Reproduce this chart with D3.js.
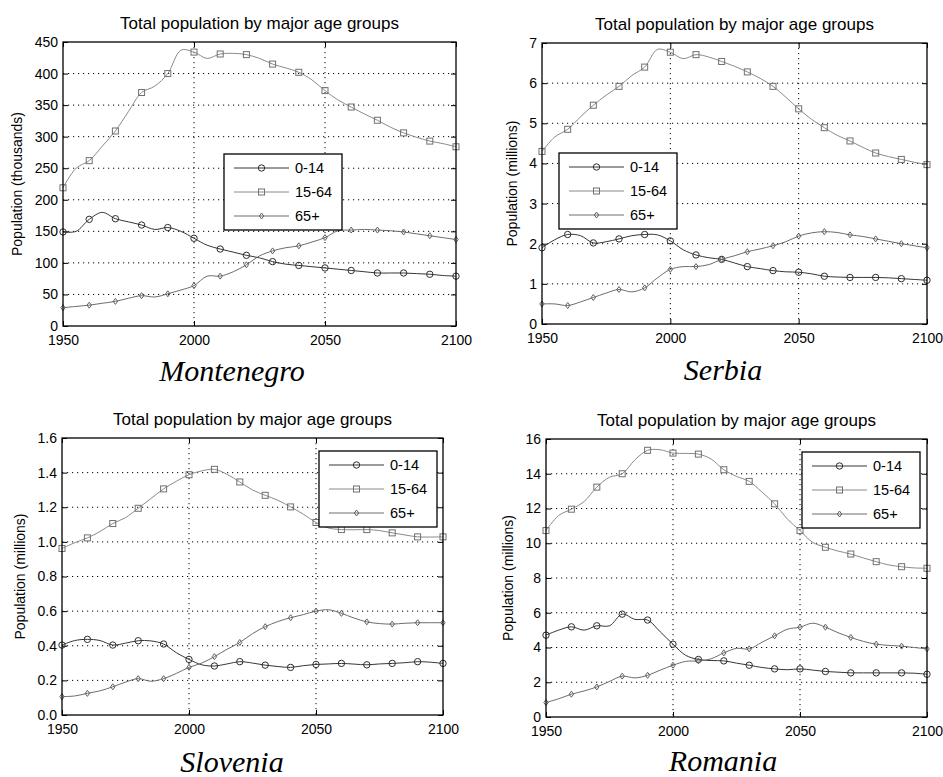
<!DOCTYPE html>
<html>
<head>
<meta charset="utf-8">
<script src="https://cdn.jsdelivr.net/npm/d3@7"></script>
<style>
  body { margin: 0; background: #fff; }
  svg { display: block; font-family: "Liberation Sans", Arial, sans-serif; }
  .tick line { stroke: #000; }
  .tick text { font-size: 14px; fill: #000; }
  .country { font-family: "Liberation Serif", "Times New Roman", serif; font-style: italic; font-size: 30px; }
</style>
</head>
<body>
<div class="svg-container"></div>
<script>
// years (5-year steps, markers every 10 years)
const years = [1950, 1955, 1960, 1965, 1970, 1975, 1980, 1985, 1990, 1995, 2000, 2005, 2010, 2015, 2020, 2025,
  2030, 2035, 2040, 2045, 2050, 2055, 2060, 2065, 2070, 2075, 2080, 2085, 2090, 2095, 2100];
const xTicks = [1950, 2000, 2050, 2100];
const ageGroups = ['0-14', '15-64', '65+'];

// Montenegro (thousands)
const montenegro014 = [149, 150, 169, 180, 170, 165, 160, 153, 156, 150, 139, 128, 122, 117, 112, 108,
  102, 98, 96, 94, 92, 90, 88, 86, 84, 84, 84, 83, 82, 80, 79];
const montenegro1564 = [219, 250, 262, 285, 309, 340, 370, 380, 400, 437, 434, 424, 431, 432, 430, 424,
  415, 409, 402, 390, 373, 358, 347, 336, 326, 315, 306, 299, 293, 289, 284];
const montenegro65 = [29, 31, 33, 36, 39, 44, 48, 46, 51, 57, 64, 79, 79, 86, 97, 111,
  119, 124, 127, 133, 140, 151, 152, 153, 152, 151, 149, 146, 143, 140, 137];
const montenegroTicks = [0, 50, 100, 150, 200, 250, 300, 350, 400, 450];

// Serbia (millions)
const serbia014 = [1.90, 2.10, 2.23, 2.20, 2.02, 2.05, 2.12, 2.20, 2.23, 2.22, 2.07, 1.85, 1.72, 1.65, 1.61, 1.52,
  1.43, 1.38, 1.33, 1.30, 1.29, 1.25, 1.19, 1.17, 1.16, 1.16, 1.16, 1.15, 1.13, 1.11, 1.09];
const serbia1564 = [4.30, 4.66, 4.85, 5.16, 5.45, 5.70, 5.92, 6.19, 6.40, 6.84, 6.77, 6.61, 6.71, 6.65, 6.54, 6.42,
  6.28, 6.12, 5.92, 5.65, 5.36, 5.10, 4.89, 4.70, 4.56, 4.40, 4.26, 4.17, 4.10, 4.03, 3.97];
const serbia65 = [0.50, 0.50, 0.46, 0.55, 0.66, 0.77, 0.86, 0.80, 0.90, 1.15, 1.36, 1.43, 1.43, 1.48, 1.61, 1.70,
  1.80, 1.87, 1.95, 2.05, 2.19, 2.27, 2.30, 2.28, 2.22, 2.18, 2.12, 2.06, 2.00, 1.95, 1.90];
const serbiaTicks = [0, 1, 2, 3, 4, 5, 6, 7];

// Slovenia (millions)
const slovenia014 = [0.404, 0.430, 0.437, 0.430, 0.404, 0.415, 0.429, 0.428, 0.410, 0.360, 0.321, 0.290, 0.283, 0.295, 0.308, 0.300,
  0.288, 0.280, 0.275, 0.285, 0.292, 0.295, 0.298, 0.294, 0.290, 0.295, 0.298, 0.302, 0.308, 0.305, 0.298];
const slovenia1564 = [0.962, 0.995, 1.023, 1.060, 1.106, 1.140, 1.194, 1.250, 1.306, 1.350, 1.388, 1.410, 1.419, 1.390, 1.346, 1.300,
  1.269, 1.240, 1.202, 1.160, 1.112, 1.080, 1.071, 1.070, 1.071, 1.065, 1.052, 1.040, 1.029, 1.028, 1.029];
const slovenia65 = [0.106, 0.110, 0.125, 0.140, 0.163, 0.190, 0.210, 0.195, 0.210, 0.240, 0.275, 0.300, 0.337, 0.380, 0.419, 0.470,
  0.510, 0.540, 0.562, 0.580, 0.600, 0.608, 0.587, 0.560, 0.538, 0.528, 0.525, 0.530, 0.533, 0.533, 0.533];
const sloveniaTicks = [0, 0.2, 0.4, 0.6, 0.8, 1.0, 1.2, 1.4, 1.6];

// Romania (millions)
const romania014 = [4.71, 5.00, 5.19, 5.00, 5.25, 5.25, 5.92, 5.62, 5.58, 4.90, 4.19, 3.55, 3.31, 3.25, 3.23, 3.10,
  2.98, 2.85, 2.77, 2.72, 2.77, 2.70, 2.62, 2.58, 2.54, 2.54, 2.54, 2.54, 2.54, 2.52, 2.46];
const romania1564 = [10.73, 11.60, 11.96, 12.40, 13.23, 13.80, 14.00, 14.80, 15.35, 15.38, 15.19, 15.17, 15.13, 14.85, 14.23, 13.85,
  13.56, 12.95, 12.27, 11.40, 10.73, 10.05, 9.77, 9.55, 9.38, 9.15, 8.94, 8.75, 8.65, 8.58, 8.56];
const romania65 = [0.83, 1.05, 1.31, 1.50, 1.73, 2.05, 2.35, 2.25, 2.40, 2.70, 2.98, 3.20, 3.23, 3.35, 3.69, 3.95,
  3.92, 4.30, 4.67, 5.05, 5.17, 5.40, 5.17, 4.85, 4.58, 4.35, 4.19, 4.12, 4.08, 4.00, 3.92];
const romaniaTicks = [0, 2, 4, 6, 8, 10, 12, 14, 16];

// panel layout
const width = 943;
const height = 777;

const panels = [
  { country: 'Montenegro', unit: 'Population (thousands)', series: [montenegro014, montenegro1564, montenegro65],
    ticks: montenegroTicks, fmt: d3.format('d'),
    box: { left: 63, right: 456, top: 42, bottom: 326 }, ylabelX: 17, countryX: 232, countryY: 381,
    legend: { x: 224, y: 154 } },
  { country: 'Serbia', unit: 'Population (millions)', series: [serbia014, serbia1564, serbia65],
    ticks: serbiaTicks, fmt: d3.format('d'),
    box: { left: 542, right: 927, top: 43, bottom: 324 }, ylabelX: 512, countryX: 723, countryY: 380,
    legend: { x: 559, y: 153 } },
  { country: 'Slovenia', unit: 'Population (millions)', series: [slovenia014, slovenia1564, slovenia65],
    ticks: sloveniaTicks, fmt: d3.format('.1f'),
    box: { left: 62, right: 443, top: 438, bottom: 715 }, ylabelX: 20, countryX: 232, countryY: 772,
    legend: { x: 319, y: 451 } },
  { country: 'Romania', unit: 'Population (millions)', series: [romania014, romania1564, romania65],
    ticks: romaniaTicks, fmt: d3.format('d'),
    box: { left: 546, right: 927, top: 439, bottom: 717 }, ylabelX: 508, countryX: 723, countryY: 771,
    legend: { x: 802, y: 452 } }
];

const lineColours = ['#363636', '#8a8a8a', '#6c6c6c'];
const markerColours = ['#2e2e2e', '#707070', '#606060'];

// marker shapes
function drawMarker(g, type, colour) {
  if (type === 0) {
    g.append('circle').attr('r', 3.2).attr('fill', 'none').attr('stroke', colour);
  } else if (type === 1) {
    g.append('rect').attr('x', -3).attr('y', -3).attr('width', 6).attr('height', 6)
      .attr('fill', 'none').attr('stroke', colour);
  } else {
    g.append('path').attr('d', 'M0,-3L2.2,0L0,3L-2.2,0Z').attr('fill', 'none').attr('stroke', colour);
  }
}

const svg = d3.select('.svg-container')
  .append('svg')
  .attr('width', width)
  .attr('height', height);

panels.forEach(p => {
  const b = p.box;
  const yMax = p.ticks[p.ticks.length - 1];

  const x = d3.scaleLinear().domain([1950, 2100]).range([b.left, b.right]);
  const y = d3.scaleLinear().domain([0, yMax]).range([b.bottom, b.top]);

  const g = svg.append('g');

  // dotted grid
  g.append('g').selectAll('line')
    .data(p.ticks.slice(1, -1))
    .enter().append('line')
    .attr('x1', b.left).attr('x2', b.right)
    .attr('y1', d => y(d)).attr('y2', d => y(d))
    .attr('stroke', '#000').attr('stroke-dasharray', '1.2,3.8');

  g.append('g').selectAll('line')
    .data(xTicks.slice(1, -1))
    .enter().append('line')
    .attr('y1', b.top).attr('y2', b.bottom)
    .attr('x1', d => x(d)).attr('x2', d => x(d))
    .attr('stroke', '#000').attr('stroke-dasharray', '1.2,3.8');

  // axes, ticks pointing inwards
  const bottom = g.append('g').attr('transform', `translate(0,${b.bottom})`)
    .call(d3.axisBottom(x).tickValues(xTicks).tickSize(-5).tickPadding(9).tickFormat(d3.format('d')));
  const top = g.append('g').attr('transform', `translate(0,${b.top})`)
    .call(d3.axisTop(x).tickValues(xTicks).tickSize(-5).tickFormat(''));
  const left = g.append('g').attr('transform', `translate(${b.left},0)`)
    .call(d3.axisLeft(y).tickValues(p.ticks).tickSize(-5).tickPadding(5).tickFormat(p.fmt));
  const right = g.append('g').attr('transform', `translate(${b.right},0)`)
    .call(d3.axisRight(y).tickValues(p.ticks).tickSize(-5).tickFormat(''));
  [bottom, top, left, right].forEach(a => a.select('.domain').remove());
  [bottom, top, left, right].forEach(a => a.attr('font-family', null).attr('font-size', null));

  // series lines
  const line = d3.line()
    .x((d, i) => x(years[i]))
    .y(d => y(d))
    .curve(d3.curveCatmullRom.alpha(0.5));

  p.series.forEach((s, k) => {
    g.append('path')
      .datum(s)
      .attr('d', line)
      .attr('fill', 'none')
      .attr('stroke', lineColours[k])
      .attr('stroke-width', 1);

    g.append('g').selectAll('g')
      .data(s.map((v, i) => ({ year: years[i], value: v })).filter(d => d.year % 10 === 0))
      .enter().append('g')
      .attr('transform', d => `translate(${x(d.year)},${y(d.value)})`)
      .each(function() { drawMarker(d3.select(this), k, markerColours[k]); });
  });

  // frame
  g.append('rect')
    .attr('x', b.left).attr('y', b.top)
    .attr('width', b.right - b.left).attr('height', b.bottom - b.top)
    .attr('fill', 'none').attr('stroke', '#000').attr('stroke-width', 1.3);

  // title
  g.append('text')
    .attr('x', (b.left + b.right) / 2)
    .attr('y', b.top - 13)
    .attr('text-anchor', 'middle')
    .style('font-size', '17px')
    .text('Total population by major age groups');

  // y label
  g.append('text')
    .attr('transform', `translate(${p.ylabelX},${(b.top + b.bottom) / 2}) rotate(-90)`)
    .attr('text-anchor', 'middle')
    .attr('dy', '0.35em')
    .style('font-size', '14px')
    .text(p.unit);

  // legend
  const lg = g.append('g').attr('transform', `translate(${p.legend.x},${p.legend.y})`);
  lg.append('rect')
    .attr('width', 118).attr('height', 76)
    .attr('fill', '#fff').attr('stroke', '#000').attr('stroke-width', 1.3);

  ageGroups.forEach((name, k) => {
    const ly = 14 + k * 24;
    lg.append('line')
      .attr('x1', 10).attr('x2', 65)
      .attr('y1', ly).attr('y2', ly)
      .attr('stroke', lineColours[k]);
    const m = lg.append('g').attr('transform', `translate(37.5,${ly})`);
    drawMarker(m, k, markerColours[k]);
    lg.append('text')
      .attr('x', 71).attr('y', ly)
      .attr('dy', '0.35em')
      .style('font-size', '14.5px')
      .text(name);
  });

  // country caption
  svg.append('text')
    .attr('class', 'country')
    .attr('x', p.countryX)
    .attr('y', p.countryY)
    .attr('text-anchor', 'middle')
    .text(p.country);
});
</script>
</body>
</html>
